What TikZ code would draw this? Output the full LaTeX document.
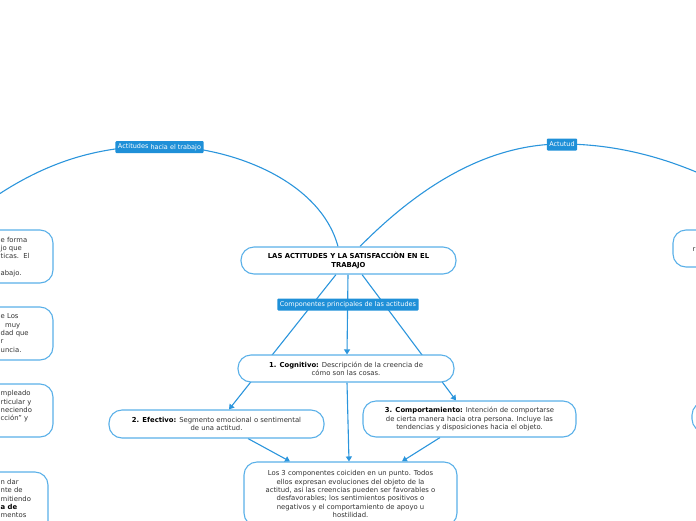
\documentclass[tikz,border=0pt]{standalone}
\usepackage{fontspec}
\setmainfont{DejaVu Sans}
\usetikzlibrary{arrows.meta}
\definecolor{edgeblue}{HTML}{2B95DC}
\definecolor{boxblue}{HTML}{5AB0E8}
\definecolor{labelblue}{HTML}{1F90D8}
\definecolor{txt}{HTML}{333333}
\newcommand\bkb[1]{\textcolor{black}{\textbf{#1}}}
\pgfdeclarelayer{bg}
\pgfsetlayers{bg,main}
\begin{document}
\begin{tikzpicture}[x=1pt,y=-1pt,
  box/.style={draw=boxblue, line width=1.1pt, rounded corners=13pt, fill=white, align=center,
    inner sep=0pt, text=txt, font=\fontsize{6.85}{8.3}\selectfont},
  frag/.style={inner sep=0pt, text=txt, font=\fontsize{6.85}{8.3}\selectfont, anchor=base west},
  conn/.style={draw=edgeblue, line width=1.1pt},
  arr/.style={conn, -{Triangle[length=5pt,width=6pt]}},
  tag/.style={fill=labelblue, text=white, rounded corners=1pt, inner xsep=2.5pt, inner ysep=0pt,
    minimum height=12pt, font=\fontsize{6.5}{7}\selectfont}
]
\useasboundingbox (0,0) rectangle (696,520);
\clip (0,0) rectangle (696,520);

% main nodes
\node[box, minimum width=215pt, minimum height=27pt] (main) at (348.5,260.5)
  {\bkb{LAS ACTITUDES Y LA SATISFACCIÒN EN EL}\\\bkb{TRABAJO}};
\node[box, minimum width=216pt, minimum height=27pt] (cog) at (346,368.5)
  {\bkb{1. Cognitivo:} Descripción de la creencia de\\cómo son las cosas.};
\node[box, minimum width=215pt, minimum height=28pt] (efe) at (216.5,424)
  {\bkb{2. Efectivo:} Segmento emocional o sentimental\\de una actitud.};
\node[box, minimum width=213pt, minimum height=36pt] (comp) at (469.5,419)
  {\bkb{3. Comportamiento:} Intención de comportarse\\de cierta manera hacia otra persona. Incluye las\\tendencias y disposiciones hacia el objeto.};
\node[box, minimum width=213pt, minimum height=64pt] (fin) at (350.5,494)
  {Los 3 componentes coiciden en un punto. Todos\\ellos expresan evoluciones del objeto de la\\actitud, asi las creencias pueden ser favorables o\\desfavorables; los sentimientos positivos o\\negativos y el comportamiento de apoyo u\\hostilidad.};

% partial boxes on the left
\node[box, minimum width=213pt, minimum height=53pt] (l1) at (-53.5,256.5) {};
\node[frag] (l1a) at (0.5,242) {e forma};
\node[frag] (l1b) at (0.5,250.3) {jo que};
\node[frag] (l1c) at (0.5,258.6) {ticas.\ \ El};
\node[frag] (l1e) at (0.5,275.2) {abajo.};

\node[box, minimum width=213pt, minimum height=53pt] (l2) at (-53.5,333.5) {};
\node[frag] (l2a) at (0.5,318.9) {e Los};
\node[frag] (l2b) at (5,327.2) {muy};
\node[frag] (l2c) at (0.5,335.5) {dad que};
\node[frag] (l2d) at (0.5,343.8) {r};
\node[frag] (l2e) at (0.5,352.1) {uncia.};

\node[box, minimum width=213pt, minimum height=53pt] (l3) at (-53.5,410.5) {};
\node[frag] (l3a) at (0.5,395.9) {mpleado};
\node[frag] (l3b) at (0.5,404.2) {rticular y};
\node[frag] (l3c) at (0.5,412.5) {neciendo};
\node[frag] (l3d) at (0.5,420.8) {cción" y};

\node[box, minimum width=213pt, minimum height=70pt] (l4) at (-58.5,507) {};
\node[frag] (l4a) at (0.5,484) {n dar};
\node[frag] (l4b) at (0.5,492.5) {nte de};
\node[frag] (l4c) at (0.5,501) {mitiendo};
\node[frag] (l4d) at (0.5,509.3) {\bkb{a de}};
\node[frag] (l4e) at (0.5,517.6) {mentos};

% partial boxes on the right
\node[box, minimum width=213pt, minimum height=37pt] (r1) at (779.5,248.5) {};
\node[frag] (r1a) at (692.5,251) {r};
\node[box, minimum width=213pt, minimum height=30pt] (r2) at (798.5,417) {};

% off-canvas ends of the arcs
\coordinate (lend) at (-30,215);
\coordinate (rend) at (760,205);

\begin{pgfonlayer}{bg}
  \draw[conn] ([xshift=-10.5pt]main.north) .. controls (320,180) and (230,146) .. (160,146)
     .. controls (100,146) and (40,160) .. (lend);
  \draw[conn] ([xshift=11.5pt]main.north) .. controls (427.3,178.3) and (494.7,144) .. (562,144)
     .. controls (628,144) and (694,164.3) .. (rend);
  \draw[arr] ([xshift=-0.5pt]main.south) -- ([xshift=1pt]cog.north);
  \draw[arr] ([xshift=-12.5pt]main.south) -- ([xshift=12.5pt]efe.north);
  \draw[arr] ([xshift=13.5pt]main.south) -- ([xshift=-13.5pt]comp.north);
  \draw[arr] ([xshift=1pt]cog.south) -- ([xshift=-1.5pt]fin.north);
  \draw[arr] ([xshift=31.5pt]efe.south) -- ([xshift=-60.5pt]fin.north);
  \draw[arr] ([xshift=-29.5pt]comp.south) -- ([xshift=51.5pt]fin.north);
\end{pgfonlayer}

% labels
\node[tag] (t1) at (159.5,147) {\raisebox{1pt}{Actitudes} hacia el trabajo};
\node[tag] (t2) at (562,144.5) {Actutud};
\node[tag] (t3) at (348,304.5) {Componentes principales de las actitudes};
\end{tikzpicture}
\end{document}
